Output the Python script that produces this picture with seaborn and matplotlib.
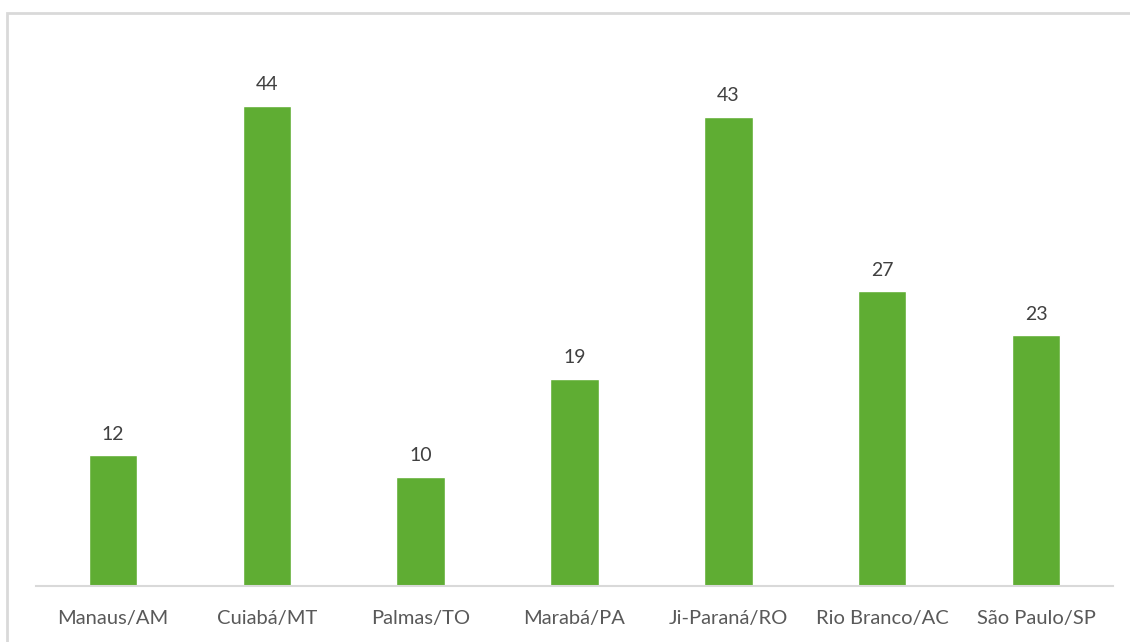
import matplotlib.pyplot as plt
import matplotlib.patches as mpatches
import pandas as pd
import seaborn as sns

cities = ["Manaus/AM", "Cuiabá/MT", "Palmas/TO", "Marabá/PA",
          "Ji-Paraná/RO", "Rio Branco/AC", "São Paulo/SP"]
values = [12, 44, 10, 19, 43, 27, 23]

BAR_COLOR = "#5fad33"
GRID_GRAY = "#d9d9d9"

df = pd.DataFrame({"city": cities, "value": values})

sns.set_theme(style="white")
plt.rcParams["font.family"] = ["Lato", "DejaVu Sans"]

fig = plt.figure(figsize=(11.3, 6.42), dpi=100)
ax = fig.add_axes([36 / 1130, 56 / 642, 1077 / 1130, 545.5 / 642])

sns.barplot(data=df, x="city", y="value", color=BAR_COLOR, width=0.315,
            saturation=1, ax=ax)

for container in ax.containers:
    ax.bar_label(container, padding=9, fontsize=14, color="#404040")

ax.set_ylim(0, 50)
ax.set_xlabel("")
ax.set_ylabel("")
ax.set_yticks([])
ax.tick_params(axis="x", length=0, pad=17, labelsize=14.5, labelcolor="#595959")
for side in ["top", "left", "right"]:
    ax.spines[side].set_visible(False)
ax.spines["bottom"].set_color(GRID_GRAY)
ax.spines["bottom"].set_linewidth(1.5)

# chart-area border (cropped at right and bottom)
fig.patches.append(mpatches.Rectangle((7 / 1130, -0.05), 1.2, 1 - 13 / 642 + 0.05,
                                      transform=fig.transFigure, fill=False,
                                      edgecolor=GRID_GRAY, linewidth=2))

fig.savefig("out.png", dpi=100)
